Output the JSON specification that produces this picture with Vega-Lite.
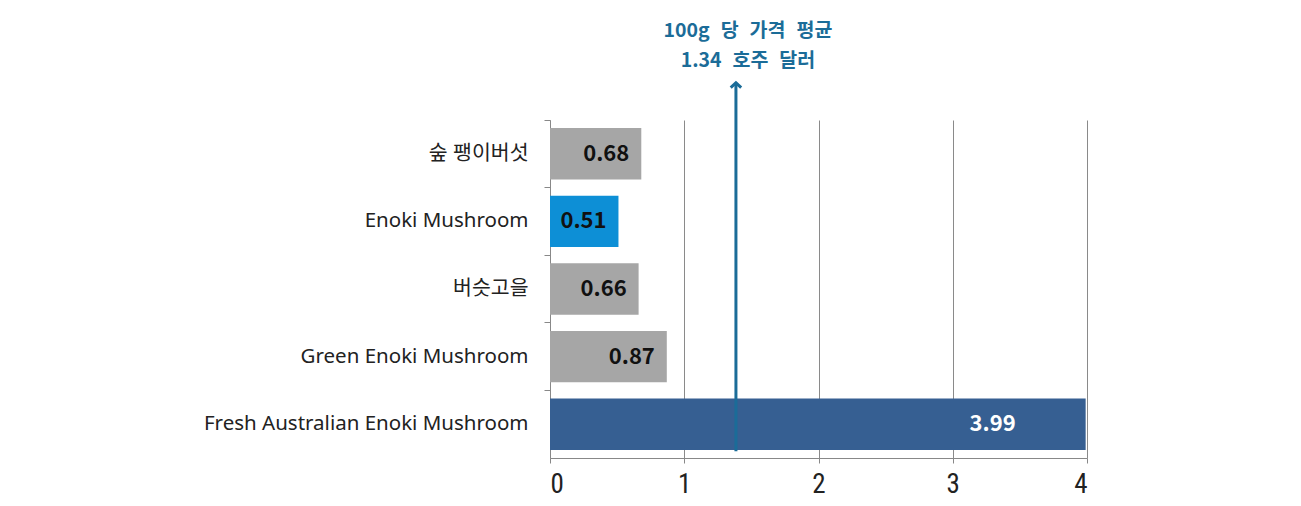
{
  "$schema": "https://vega.github.io/schema/vega-lite/v6.json",
  "autosize": {"type": "none"},
  "width": 537,
  "height": 338,
  "padding": {"left": 550, "top": 120, "right": 214, "bottom": 48},
  "background": "white",
  "config": {"view": {"stroke": null}},
  "datasets": {
    "bars": [
      {"item": "숲 팽이버섯", "value": 0.68, "group": "other"},
      {"item": "Enoki Mushroom", "value": 0.51, "group": "highlight"},
      {"item": "버슷고을", "value": 0.66, "group": "other"},
      {"item": "Green Enoki Mushroom", "value": 0.87, "group": "other"},
      {"item": "Fresh Australian Enoki Mushroom", "value": 3.99, "group": "main"}
    ],
    "avg": [{"avg": 1.385, "ybottom": 0.02, "ytop": 1.11, "line1": 1.262, "line2": 1.174}]
  },
  "layer": [
    {
      "data": {"name": "bars"},
      "encoding": {
        "y": {
          "field": "item", "type": "nominal", "sort": null,
          "scale": {"paddingInner": 0, "paddingOuter": 0},
          "axis": {
            "title": null, "bandPosition": 0, "tickSize": 6, "tickColor": "#888888",
            "domainColor": "#888888", "labelPadding": 16, "labelFont": "Noto Sans, Noto Sans CJK KR",
            "labelFontSize": 20.5, "labelColor": "#222222", "grid": false, "labelLimit": 400
          }
        },
        "x": {
          "field": "value", "type": "quantitative",
          "scale": {"domain": [0, 4], "nice": false},
          "axis": {
            "title": null, "values": [0, 1, 2, 3, 4], "format": "d", "grid": true, "gridColor": "#8a8a8a",
            "gridWidth": 1, "domainColor": "#888888", "tickColor": "#888888", "tickSize": 5,
            "labelFont": "Liberation Sans Narrow, Roboto Condensed, DejaVu Sans Condensed, sans-serif", "labelFontSize": 27, "labelColor": "#222222",
            "labelPadding": 8
          }
        }
      },
      "layer": [
        {
          "mark": {"type": "bar", "height": {"band": 0.76}},
          "encoding": {
            "color": {
              "field": "group", "type": "nominal", "legend": null,
              "scale": {"domain": ["other", "highlight", "main"], "range": ["#a6a6a6", "#0d8fd6", "#365f92"]}
            }
          }
        },
        {
          "transform": [{"filter": "datum.value < 2"}],
          "mark": {"type": "text", "align": "center", "baseline": "middle", "dx": -35, "font": "Noto Sans CJK KR", "fontWeight": "bold", "fontSize": 22, "color": "#111111"},
          "encoding": {
            "text": {"field": "value", "type": "quantitative", "format": ".2f"}
          }
        },
        {
          "transform": [{"filter": "datum.value >= 2"}],
          "mark": {"type": "text", "align": "right", "baseline": "middle", "dx": -70, "font": "Noto Sans CJK KR", "fontWeight": "bold", "fontSize": 22, "color": "white"},
          "encoding": {
            "text": {"field": "value", "type": "quantitative", "format": ".2f"}
          }
        }
      ]
    },
    {
      "data": {"name": "avg"},
      "encoding": {
        "x": {"field": "avg", "type": "quantitative"}
      },
      "layer": [
        {
          "mark": {"type": "rule", "color": "#1b6c98", "strokeWidth": 3, "clip": false},
          "encoding": {
            "y": {"field": "ybottom", "type": "quantitative", "scale": {"domain": [0, 1], "nice": false}, "axis": null},
            "y2": {"field": "ytop"}
          }
        },
        {
          "mark": {"type": "point", "shape": "M-1,0.9L0,0L1,0.9", "filled": false, "stroke": "#1b6c98", "strokeWidth": 3, "size": 110, "opacity": 1, "clip": false},
          "encoding": {
            "y": {"field": "ytop", "type": "quantitative", "scale": {"domain": [0, 1], "nice": false}, "axis": null}
          }
        },
        {
          "mark": {"type": "text", "align": "center", "baseline": "middle", "dx": 12, "font": "Noto Sans CJK KR", "fontWeight": "bold", "fontSize": 19.5, "color": "#1b6c98"},
          "encoding": {
            "y": {"field": "line1", "type": "quantitative", "scale": {"domain": [0, 1], "nice": false}, "axis": null},
            "text": {"value": "100g\u2002\u200a당\u2002\u200a가격\u2002\u200a평균"}
          }
        },
        {
          "mark": {"type": "text", "align": "center", "baseline": "middle", "dx": 12, "font": "Noto Sans CJK KR", "fontWeight": "bold", "fontSize": 19.5, "color": "#1b6c98"},
          "encoding": {
            "y": {"field": "line2", "type": "quantitative", "scale": {"domain": [0, 1], "nice": false}, "axis": null},
            "text": {"value": "1.34\u2002\u200a호주\u2002\u200a달러"}
          }
        }
      ]
    }
  ],
  "resolve": {"scale": {"y": "independent"}}
}
